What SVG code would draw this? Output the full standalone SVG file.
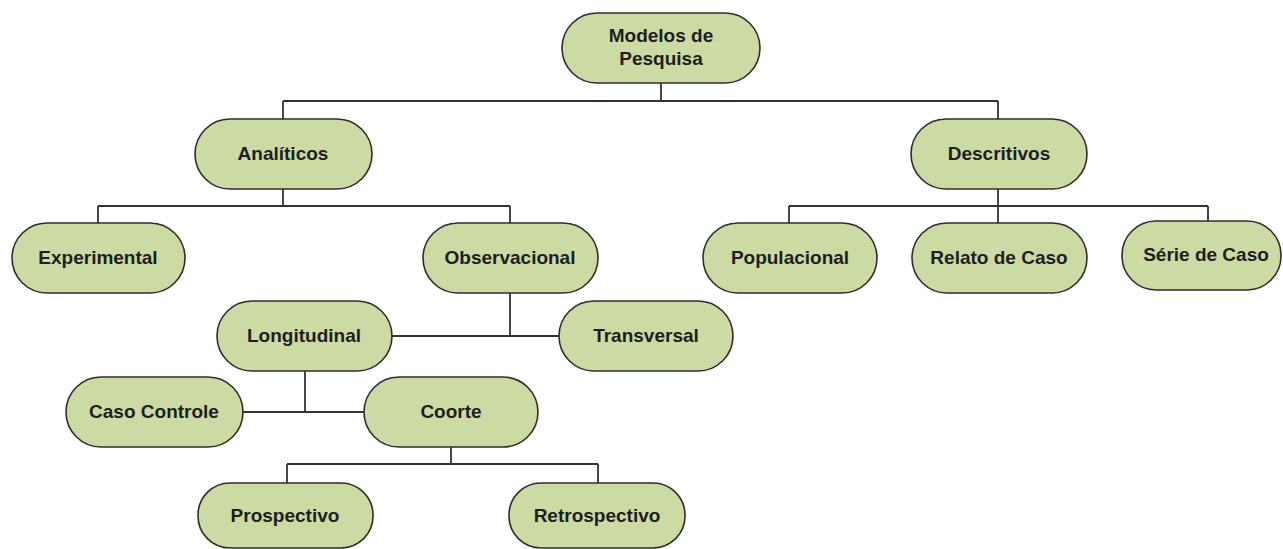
<svg xmlns="http://www.w3.org/2000/svg" width="1283" height="549" viewBox="0 0 1283 549">
<style>
.n{fill:#cbdba3;stroke:#2e2e2e;stroke-width:1.6}
.t{font-family:"Liberation Sans",Arial,sans-serif;font-weight:bold;font-size:19px;fill:#1e1e1e;text-anchor:middle}
.c{fill:none;stroke:#333;stroke-width:1.8}
</style>
<rect width="1283" height="549" fill="#fff"/>
<g id="connectors" class="c">
<path d="M661 83V101M283 101H998M283 101V119M998 101V119"/>
<path d="M283 189V206M98 206H510M98 206V223M510 206V223"/>
<path d="M998 189V223M789 206H1208M789 206V223M1208 206V221"/>
<path d="M510 293V336M392 336H559"/>
<path d="M305 371V412M243 412H364"/>
<path d="M451 447V464M287 464H598M287 464V483M598 464V483"/>
</g>
<g id="modelos"><rect class="n" x="562" y="13" width="198" height="70" rx="35"/><text class="t" x="661" y="42">Modelos de</text><text class="t" x="661" y="65">Pesquisa</text></g>
<g id="analiticos"><rect class="n" x="195" y="119" width="177" height="70" rx="35"/><text class="t" x="283" y="160">Analíticos</text></g>
<g id="descritivos"><rect class="n" x="911" y="119" width="176" height="70" rx="35"/><text class="t" x="999" y="160">Descritivos</text></g>
<g id="experimental"><rect class="n" x="12" y="223" width="173" height="70" rx="35"/><text class="t" x="98" y="264">Experimental</text></g>
<g id="observacional"><rect class="n" x="423" y="223" width="175" height="70" rx="35"/><text class="t" x="510" y="264">Observacional</text></g>
<g id="populacional"><rect class="n" x="703" y="223" width="174" height="70" rx="35"/><text class="t" x="790" y="264">Populacional</text></g>
<g id="relato"><rect class="n" x="912" y="223" width="175" height="70" rx="35"/><text class="t" x="999" y="264">Relato de Caso</text></g>
<g id="serie"><rect class="n" x="1122" y="221" width="159" height="69" rx="34"/><text class="t" x="1206" y="261">Série de Caso</text></g>
<g id="longitudinal"><rect class="n" x="217" y="301" width="175" height="70" rx="35"/><text class="t" x="304" y="342">Longitudinal</text></g>
<g id="transversal"><rect class="n" x="559" y="301" width="174" height="70" rx="35"/><text class="t" x="646" y="342">Transversal</text></g>
<g id="casocontrole"><rect class="n" x="66" y="377" width="177" height="70" rx="35"/><text class="t" x="154" y="418">Caso Controle</text></g>
<g id="coorte"><rect class="n" x="364" y="377" width="174" height="70" rx="35"/><text class="t" x="451" y="418">Coorte</text></g>
<g id="prospectivo"><rect class="n" x="198" y="483" width="175" height="65" rx="32"/><text class="t" x="285" y="522">Prospectivo</text></g>
<g id="retrospectivo"><rect class="n" x="509" y="483" width="176" height="65" rx="32"/><text class="t" x="597" y="522">Retrospectivo</text></g>
</svg>
